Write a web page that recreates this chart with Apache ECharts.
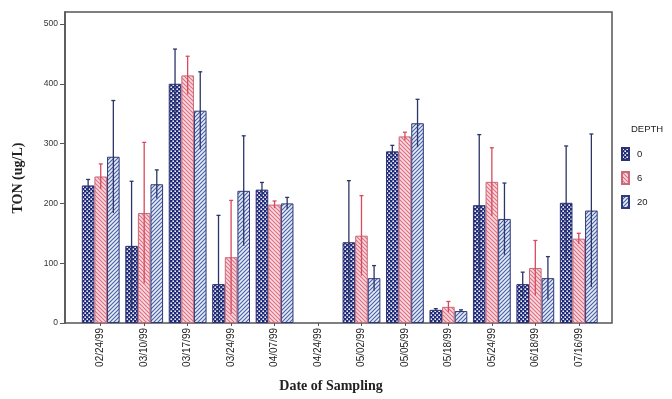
<!DOCTYPE html>
<html>
<head>
<meta charset="utf-8">
<script src="https://cdn.jsdelivr.net/npm/echarts@6/dist/echarts.min.js"></script>
<style>
  html, body { margin: 0; padding: 0; background: #ffffff; }
  #chart { width: 672px; height: 399px; }
</style>
</head>
<body>
<div id="chart"></div>
<script>
// Sampling dates (x categories)
const dates = ['02/24/99', '03/10/99', '03/17/99', '03/24/99', '04/07/99', '04/24/99',
               '05/02/99', '05/05/99', '05/18/99', '05/24/99', '06/18/99', '07/16/99'];
// Depth groups
const depths = ['0', '6', '20'];
// Mean TON (ug/L) per date, one array per depth (null = no sample)
const ton0  = [230, 129, 400,  65, 223, null, 135, 287, 22, 197,  65, 201];
const ton6  = [245, 184, 414, 110, 198, null, 146, 312, 27, 236,  92, 141];
const ton20 = [278, 232, 355, 221, 200, null,  75, 334, 20, 174,  75, 188];
// Error bar half-lengths (ug/L)
const err0  = [ 10, 108,  58, 115,  12, null, 103,  10,  2, 118,  20,  95];
const err6  = [ 21, 118,  32,  95,   6, null,  67,   7,  9,  57,  46,   9];
const err20 = [ 94,  24,  65,  92,  10, null,  21,  40,  2,  60,  36, 128];
// Y axis ticks
const yTicks = [0, 100, 200, 300, 400, 500];
const yMax = 520;

// Fill patterns for the bars
function tile(size, draw) {
  const c = document.createElement('canvas');
  c.width = size; c.height = size;
  draw(c.getContext('2d'), size);
  return c;
}
const dotTile = tile(4, (g, s) => {
  g.fillStyle = '#202a78'; g.fillRect(0, 0, s, s);
  g.fillStyle = '#eef1fc';
  g.fillRect(0.4, 0.4, 1.6, 1.6);
  g.fillRect(2.4, 2.4, 1.6, 1.6);
});
const pinkTile = tile(4, (g, s) => {
  g.fillStyle = '#f7dbe1'; g.fillRect(0, 0, s, s);
  g.strokeStyle = '#dd6e80'; g.lineWidth = 1.1;
  g.beginPath();
  g.moveTo(-1, -1); g.lineTo(s + 1, s + 1);
  g.moveTo(-1, s - 1); g.lineTo(1, s + 1);
  g.moveTo(s - 1, -1); g.lineTo(s + 1, 1);
  g.stroke();
});
const blueTile = tile(4, (g, s) => {
  g.fillStyle = '#e4edf9'; g.fillRect(0, 0, s, s);
  g.strokeStyle = '#4a5ea2'; g.lineWidth = 1.1;
  g.beginPath();
  g.moveTo(-1, s + 1); g.lineTo(s + 1, -1);
  g.moveTo(-1, 1); g.lineTo(1, -1);
  g.moveTo(s - 1, s + 1); g.lineTo(s + 1, s - 1);
  g.stroke();
});

const fills   = [dotTile, pinkTile, blueTile];
const borders = ['#2a3272', '#c86a7a', '#2f3a78'];
const whisk   = ['#2c3568', '#d84a5c', '#2c3568'];
const means   = [ton0, ton6, ton20];
const errs    = [err0, err6, err20];
const catGap = 0.13;

const barSeries = depths.map((d, k) => ({
  name: d,
  type: 'bar',
  xAxisIndex: 1, yAxisIndex: 1,
  barGap: '0%',
  barCategoryGap: (catGap * 100) + '%',
  data: means[k],
  itemStyle: {
    color: { image: fills[k], repeat: 'repeat' },
    borderColor: borders[k],
    borderWidth: 1
  },
  z: 2
}));

const errSeries = depths.map((d, k) => ({
  type: 'custom',
  xAxisIndex: 1, yAxisIndex: 1,
  z: 5,
  silent: true,
  data: means[k].map((v, i) => (v == null ? null : [i, v, errs[k][i]])).filter(x => x),
  renderItem: function (params, api) {
    const i = api.value(0), v = api.value(1), e = api.value(2);
    const band = api.size([1, 0])[0];
    const bw = band * (1 - catGap) / 3;
    const cx = api.coord([i, v])[0] + (k - 1) * bw;
    const yTop = api.coord([i, v + e])[1];
    const yBot = api.coord([i, Math.max(v - e, 0)])[1];
    const st = { stroke: whisk[k], lineWidth: 1.3 };
    return {
      type: 'group',
      children: [
        { type: 'line', shape: { x1: cx, y1: yBot, x2: cx, y2: yTop }, style: st },
        { type: 'line', shape: { x1: cx - 2, y1: yTop, x2: cx + 2, y2: yTop }, style: st }
      ]
    };
  }
}));

const chart = echarts.init(document.getElementById('chart'), null, { renderer: 'canvas' });
const labelFont = '"Liberation Sans Narrow", "Liberation Sans", Arial, sans-serif';
const serif = '"Liberation Serif", "Times New Roman", serif';

chart.setOption({
  animation: false,
  backgroundColor: '#ffffff',
  grid: [
    { left: 65, right: 60, top: 12, bottom: 76, show: true, borderColor: '#555555', borderWidth: 1.5, backgroundColor: 'transparent' },
    { left: 79, right: 71.5, top: 12, bottom: 76 }
  ],
  xAxis: [
    { gridIndex: 0, type: 'value', show: false },
    {
      gridIndex: 1, type: 'category', data: dates,
      axisLine: { show: false },
      axisTick: { show: true, alignWithLabel: true, length: 3, lineStyle: { color: '#555' } },
      axisLabel: { rotate: 90, margin: 5, fontSize: 10, color: '#222', fontFamily: labelFont, interval: 0 }
    }
  ],
  yAxis: [
    {
      gridIndex: 0, type: 'value', min: 0, max: yMax,
      axisLine: { show: true, lineStyle: { color: '#555', width: 1.5 } },
      axisTick: { show: true, length: 5, customValues: yTicks, lineStyle: { color: '#555' } },
      axisLabel: { customValues: yTicks, fontSize: 8.5, color: '#333', fontFamily: labelFont, margin: 7 },
      splitLine: { show: false }
    },
    { gridIndex: 1, type: 'value', min: 0, max: yMax, show: false, splitLine: { show: false } }
  ],
  legend: {
    data: depths,
    orient: 'vertical',
    left: 616, top: 142,
    itemWidth: 7, itemHeight: 12, itemGap: 10,
    icon: 'rect',
    textStyle: { fontSize: 9.5, color: '#222', fontFamily: labelFont, padding: [0, 0, 0, 3] }
  },
  graphic: [
    {
      type: 'text', left: 631, top: 124,
      style: { text: 'DEPTH', fill: '#222', font: '9.5px ' + labelFont }
    },
    {
      type: 'text', x: 18, y: 178, rotation: Math.PI / 2,
      style: { text: 'TON (ug/L)', font: 'bold 14px ' + serif, fill: '#222', align: 'center', verticalAlign: 'middle' }
    },
    {
      type: 'text', x: 331, y: 386,
      style: { text: 'Date of Sampling', font: 'bold 14px ' + serif, fill: '#222', align: 'center', verticalAlign: 'middle' }
    }
  ],
  series: barSeries.concat(errSeries)
});
</script>
</body>
</html>
